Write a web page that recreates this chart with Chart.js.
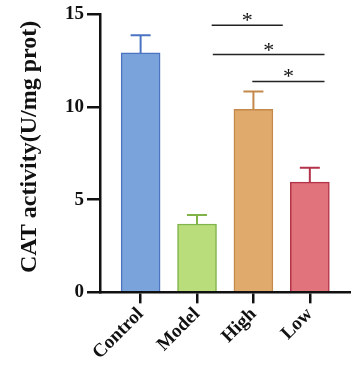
<!DOCTYPE html>
<html><head><meta charset="utf-8">
<script src="https://cdn.jsdelivr.net/npm/chart.js@4/dist/chart.umd.min.js"></script>
<style>html,body{margin:0;padding:0;background:#fff}#wrap{width:351px;height:367px}</style>
</head><body><div id="wrap"><canvas id="c"></canvas></div>
<script>
const categories = ['Control','Model','High','Low'];
const means = [12.92, 3.69, 9.88, 5.95];
const sds = [0.95, 0.49, 0.96, 0.77];
const yTicks = [0, 5, 10, 15];
const yTitle = 'CAT activity(U/mg prot)';
const sigFrom = [1.26, 1.28, 1.98];
const sigTo = [2.52, 3.26, 3.26];
const sigY = [14.41, 12.83, 11.38];
const sigLabel = ['*', '*', '*'];

const fills = ['#7aa3dc','#b9dd7b','#dfaa6b','#e0737b'];
const borders = ['#4a73c2','#80b348','#c4894a','#b2334a'];
const FONT = "'Liberation Serif','Times New Roman',serif";

const extras = {
  id: 'extras',
  afterDatasetsDraw(chart) {
    const ctx = chart.ctx, x = chart.scales.x, y = chart.scales.y;
    ctx.save();
    means.forEach((m, i) => {
      const cx = x.getPixelForValue(i);
      const y0 = y.getPixelForValue(m), y1 = y.getPixelForValue(m + sds[i]);
      ctx.strokeStyle = borders[i]; ctx.lineWidth = 2;
      ctx.beginPath(); ctx.moveTo(cx, y0); ctx.lineTo(cx, y1);
      ctx.moveTo(cx - 10, y1); ctx.lineTo(cx + 10, y1); ctx.stroke();
    });
    ctx.strokeStyle = '#222'; ctx.lineWidth = 1.5; ctx.fillStyle = '#111';
    ctx.font = '22px ' + FONT; ctx.textAlign = 'center'; ctx.textBaseline = 'alphabetic';
    sigFrom.forEach((f, i) => {
      const xa = x.getPixelForValue(f), xb = x.getPixelForValue(sigTo[i]);
      const yy = y.getPixelForValue(sigY[i]);
      ctx.beginPath(); ctx.moveTo(xa, yy); ctx.lineTo(xb, yy); ctx.stroke();
      ctx.fillText(sigLabel[i], (xa + xb) / 2, yy + 2);
    });
    // y axis title
    ctx.translate(30, y.getPixelForValue(7.85));
    ctx.rotate(-Math.PI / 2);
    ctx.font = 'bold 24px ' + FONT; ctx.textBaseline = 'middle';
    ctx.fillText(yTitle, 0, 0);
    ctx.restore();
  }
};

new Chart(document.getElementById('c'), {
  type: 'bar',
  data: {
    datasets: [{
      data: means.map((v, i) => ({x: i, y: v})),
      backgroundColor: fills,
      borderColor: borders,
      borderWidth: 1.5,
      barThickness: 39
    }]
  },
  options: {
    responsive: true, maintainAspectRatio: false, animation: false,
    layout: {padding: {top: 11, right: 0, left: 0, bottom: 3}},
    plugins: {legend: {display: false}, tooltip: {enabled: false}},
    scales: {
      x: {
        type: 'linear', min: -0.72, max: 3.73, offset: false, bounds: 'ticks',
        afterBuildTicks: s => { s.ticks = categories.map((c, i) => ({value: i})); },
        ticks: {
          callback: v => categories[v], maxRotation: 45, minRotation: 45, autoSkip: false,
          color: '#111', font: {family: FONT, size: 19, weight: 'bold'}, padding: 0
        },
        grid: {drawOnChartArea: false, color: '#111', lineWidth: 2.5, tickLength: 11, offset: false},
        border: {display: true, color: '#111', width: 2.5}
      },
      y: {
        min: 0, max: 15,
        afterBuildTicks: s => { s.ticks = yTicks.map(v => ({value: v})); },
        afterFit: s => { s.width = 100; },
        ticks: {color: '#111', font: {family: FONT, size: 19, weight: 'bold'}, padding: 3},
        grid: {drawOnChartArea: false, color: '#111', lineWidth: 2.5, tickLength: 13},
        border: {display: true, color: '#111', width: 2.5}
      }
    }
  },
  plugins: [extras]
});
</script></body></html>
